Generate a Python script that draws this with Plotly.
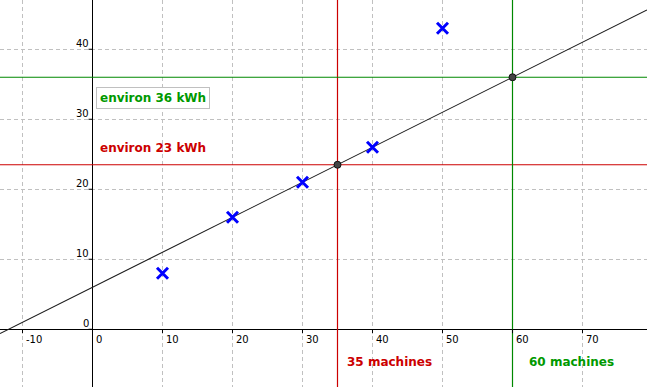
import plotly.graph_objects as go

# ---- data ----
machines = [10, 20, 30, 40, 50]
energy_kwh = [8, 16, 21, 26, 43]
fit_slope = 0.5
fit_intercept = 6
query_machines = [35, 60]
query_labels_x = ["35 machines", "60 machines"]
query_labels_y = ["environ 23 kWh", "environ 36 kWh"]
x_ticks = [-10, 0, 10, 20, 30, 40, 50, 60, 70]
x_tick_labels = ["-10", "0", "10", "20", "30", "40", "50", "60", "70"]
y_ticks = [0, 10, 20, 30, 40]
y_tick_labels = ["0", "10", "20", "30", "40"]

# ---- styling ----
X_RANGE = [-92.5 / 7, (647 - 92.5) / 7]
Y_RANGE = [(329.25 - 387) / 7, 329.25 / 7]
RED = "#cc0000"
GREEN = "#009900"
LINE_RED = "#cc0000"
LINE_GREEN = "#008800"
FONT = "DejaVu Sans"

query_energy = [fit_slope * m + fit_intercept for m in query_machines]

fig = go.Figure()

# regression line
fig.add_trace(go.Scatter(
    x=X_RANGE, y=[fit_slope * v + fit_intercept for v in X_RANGE],
    mode="lines", line=dict(color="#1a1a1a", width=1.1), hoverinfo="skip"))

colors = [LINE_RED, LINE_GREEN]
for m, e, c in zip(query_machines, query_energy, colors):
    fig.add_trace(go.Scatter(x=X_RANGE, y=[e, e], mode="lines",
                             line=dict(color=c, width=1.2), hoverinfo="skip"))
    fig.add_trace(go.Scatter(x=[m, m], y=Y_RANGE, mode="lines",
                             line=dict(color=c, width=1.2), hoverinfo="skip"))

# data crosses
fig.add_trace(go.Scatter(
    x=machines, y=energy_kwh, mode="markers",
    marker=dict(symbol="x-thin", size=11, line=dict(color="#0000ff", width=3))))

# intersection points
fig.add_trace(go.Scatter(
    x=query_machines, y=query_energy, mode="markers",
    marker=dict(symbol="circle", size=7, color="#444444",
                line=dict(color="#111111", width=1))))

shapes = []
for t in x_ticks:
    shapes.append(dict(type="line", xref="x", yref="y", ysizemode="pixel",
                       yanchor=0, x0=t, x1=t, y0=0, y1=-4,
                       line=dict(color="black", width=1)))
for t in y_ticks:
    shapes.append(dict(type="line", xref="x", yref="y", xsizemode="pixel",
                       xanchor=0, y0=t, y1=t, x0=0, x1=-4,
                       line=dict(color="black", width=1)))

annotations = []
for t, lab in zip(x_ticks, x_tick_labels):
    annotations.append(dict(x=t, y=0, xref="x", yref="y", text=lab, showarrow=False,
                            xanchor="left", yanchor="middle", xshift=3, yshift=-10,
                            borderpad=0, borderwidth=0,
                            font=dict(family=FONT, size=10, color="black")))
for t, lab in zip(y_ticks, y_tick_labels):
    annotations.append(dict(x=0, y=t, xref="x", yref="y", text=lab, showarrow=False,
                            xanchor="right", yanchor="middle", xshift=-4, yshift=6,
                            borderpad=0, borderwidth=0,
                            font=dict(family=FONT, size=10, color="black")))

# text labels
annotations.append(dict(x=0.49, y=33.0, xref="x", yref="y", text="<b>" + query_labels_y[1] + "</b>",
                        showarrow=False, xanchor="left", yanchor="middle",
                        bordercolor="#c0c0c0", borderwidth=1, borderpad=3, bgcolor="white",
                        font=dict(family=FONT, size=12, color=GREEN)))
annotations.append(dict(x=0.49, y=25.94, xref="x", yref="y", text="<b>" + query_labels_y[0] + "</b>",
                        showarrow=False, xanchor="left", yanchor="middle",
                        borderwidth=1, bordercolor="rgba(0,0,0,0)", borderpad=3,
                        font=dict(family=FONT, size=12, color=RED)))
annotations.append(dict(x=42.46, y=-4.63, xref="x", yref="y", text="<b>" + query_labels_x[0] + "</b>",
                        showarrow=False, xanchor="center", yanchor="middle",
                        font=dict(family=FONT, size=12, color=RED)))
annotations.append(dict(x=68.43, y=-4.71, xref="x", yref="y", text="<b>" + query_labels_x[1] + "</b>",
                        showarrow=False, xanchor="center", yanchor="middle",
                        font=dict(family=FONT, size=12, color=GREEN)))

axis_common = dict(showgrid=True, gridcolor="#c0c0c0", gridwidth=1, griddash="4px,3px",
                   dtick=10, tick0=0, showticklabels=False, ticks="",
                   zeroline=True, zerolinecolor="black", zerolinewidth=1,
                   showline=False, fixedrange=True)

fig.update_layout(
    width=647, height=387, margin=dict(l=0, r=0, t=0, b=0),
    paper_bgcolor="white", plot_bgcolor="white", showlegend=False,
    xaxis=dict(range=X_RANGE, **axis_common),
    yaxis=dict(range=Y_RANGE, **axis_common),
    shapes=shapes, annotations=annotations,
)

fig.write_html("out.html")
